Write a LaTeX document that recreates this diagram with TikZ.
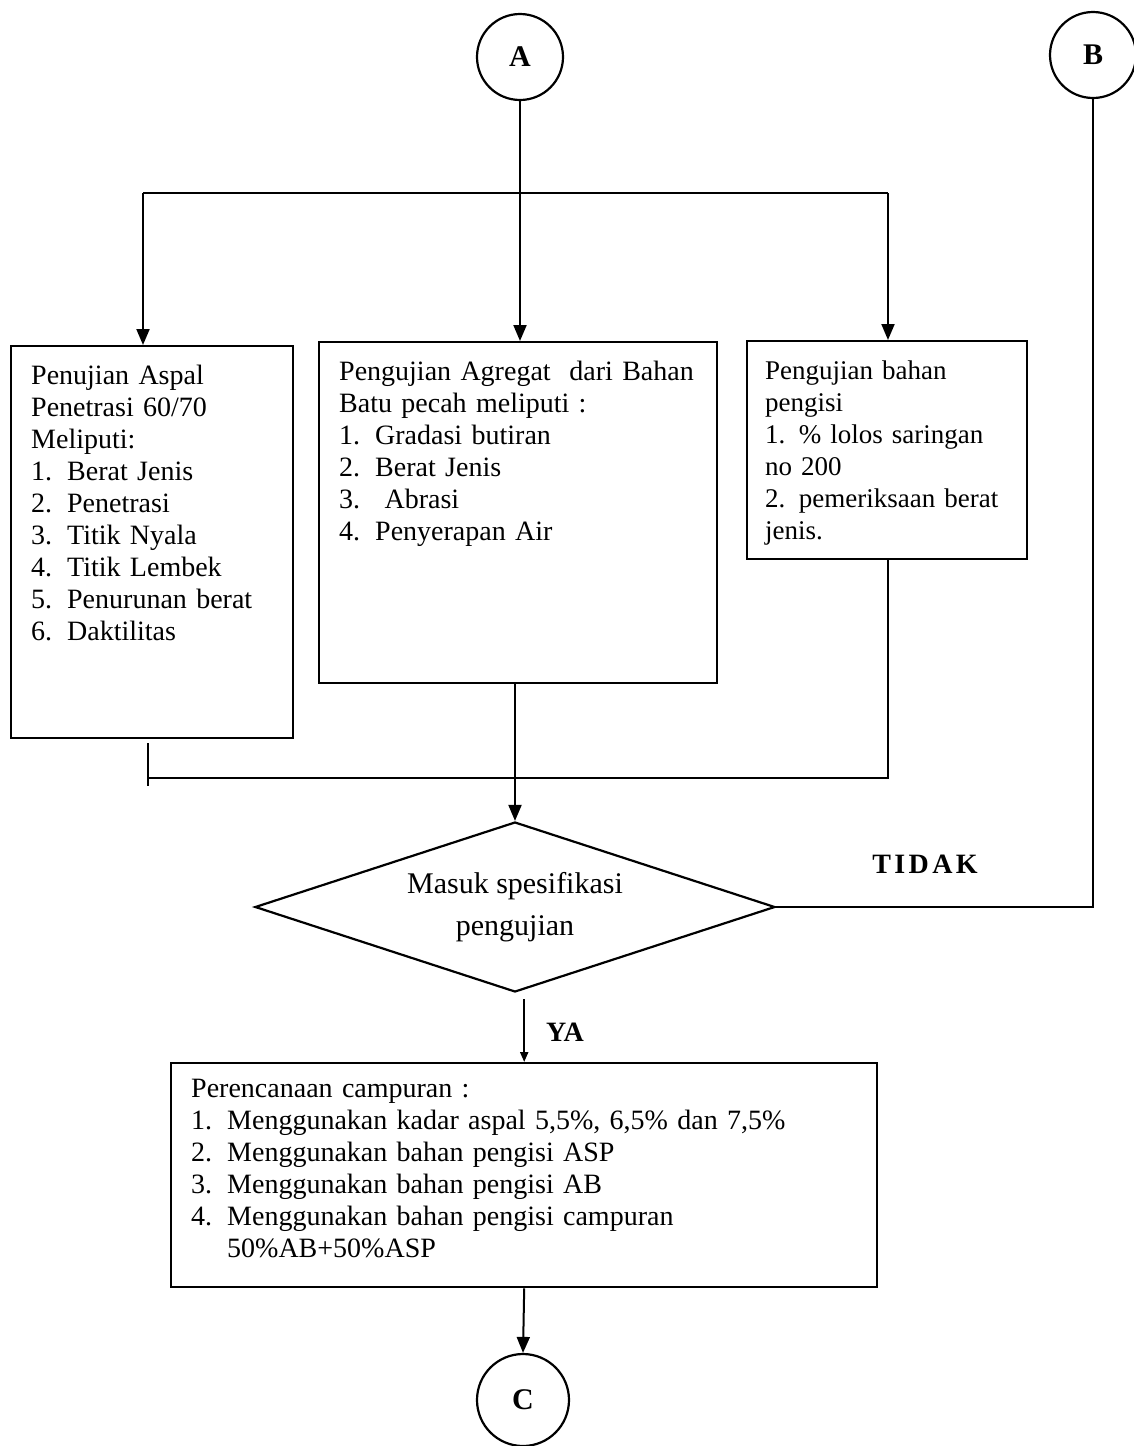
\documentclass[tikz,border=0pt]{standalone}
\usepackage{fontspec}
\setmainfont{Liberation Serif}
\usetikzlibrary{arrows.meta, positioning, shapes.geometric}

\newcommand{\nomor}[2]{\makebox[18pt][l]{#1}#2}

\begin{document}
\begin{tikzpicture}[
  x=0.5pt, y=-0.5pt,
  konektor/.style={
    circle,
    draw=black,
    line width=1.1pt,
    minimum size=43pt,
    inner sep=0pt,
    font=\fontsize{15}{18}\selectfont\bfseries
  },
  uji/.style={
    rectangle,
    draw=black,
    line width=1.2pt,
    anchor=north west,
    align=left,
    inner xsep=10pt,
    inner ysep=9pt,
    text height=10pt,
    font=\fontsize{14}{16}\selectfont
  },
  keputusan/.style={
    diamond,
    draw=black,
    line width=1.1pt,
    aspect=3,
    minimum width=260pt,
    minimum height=85pt,
    inner sep=0pt,
    align=center,
    font=\fontsize{15}{21}\selectfont
  },
  garis/.style={draw=black, line width=1pt},
  panah/.style={garis, -{Stealth[length=8pt, width=6.5pt, inset=0pt]}},
  ket/.style={font=\fontsize{14}{16}\selectfont\bfseries}
]
\useasboundingbox (0,0) rectangle (1134,1446);

% Connectors A, B and C
\node[konektor] (A) at (520,57) {A};
\node[konektor] (B) at (1093,55) {B};
\node[konektor, minimum size=46pt] (C) at (523,1400) {C};

% Testing boxes
\node[uji, text width=121pt, text depth=168pt] (aspal) at (10,345) {Penujian Aspal\\
  Penetrasi 60/70\\
  Meliputi:\\
  \nomor{1.}{Berat Jenis}\\
  \nomor{2.}{Penetrasi}\\
  \nomor{3.}{Titik Nyala}\\
  \nomor{4.}{Titik Lembek}\\
  \nomor{5.}{Penurunan berat}\\
  \nomor{6.}{Daktilitas}};
\node[uji, text width=179pt, text depth=142.5pt] (agregat) at (318,341) {Pengujian Agregat\ \ dari Bahan\\
  Batu pecah meliputi :\\
  \nomor{1.}{Gradasi butiran}\\
  \nomor{2.}{Berat Jenis}\\
  \nomor{3.}{\ Abrasi}\\
  \nomor{4.}{Penyerapan Air}};
\node[uji, inner xsep=9pt, text width=122pt, text depth=81pt,
  font=\fontsize{13.5}{16}\selectfont] (bahan) at (746,340) {Pengujian bahan\\
  pengisi\\
  1. \% lolos saringan\\
  no 200\\
  \mbox{2. pemeriksaan berat}\\
  jenis.};

% Decision
\node[keputusan] (spek) at (515,907) {Masuk spesifikasi\\pengujian};

% Mix design
\node[uji, inner ysep=7pt, text depth=88pt, text width=333pt] (rencana) at (170,1062) {Perencanaan campuran :\\
  \nomor{1.}{Menggunakan kadar aspal 5,5\%, 6,5\% dan 7,5\%}\\
  \nomor{2.}{Menggunakan bahan pengisi ASP}\\
  \nomor{3.}{Menggunakan bahan pengisi AB}\\
  \nomor{4.}{Menggunakan bahan pengisi campuran}\\
  \nomor{}{50\%AB+50\%ASP}};

% Branch points
\coordinate (bagiL) at (143,193);
\coordinate (bagiR) at (888,193);
\coordinate (satuL) at (148,778);
\coordinate (satuA) at (148,743);
\coordinate (satuB) at (148,786);

% From A to the three tests
\draw[garis] (bagiL) -- (bagiR);
\draw[panah] (A.south) -- (A.south |- agregat.north);
\draw[panah] (bagiL) -- (bagiL |- aspal.north);
\draw[panah] (bagiR) -- (bagiR |- bahan.north);

% Results to the decision
\draw[garis] (bahan.south -| bagiR) |- (satuL);
\draw[garis] (satuA) -- (satuB);
\draw[panah] (agregat.south -| spek.north) -- (spek.north);

% TIDAK back to B
\draw[garis] (spek.east) -| (B.south);
\node[ket] (tidak) at (925,864) {\addfontfeatures{LetterSpace=12}TIDAK};

% YA to the mix design, then C
\draw[garis, shorten <=3pt, -{Stealth[length=5pt, width=4pt, inset=0pt]}] (rencana.north |- spek.south) -- (rencana.north);
\node[ket] (ya) at (565,1032) {YA};
\draw[panah] (rencana.south) -- (C.north);

\end{tikzpicture}
\end{document}
